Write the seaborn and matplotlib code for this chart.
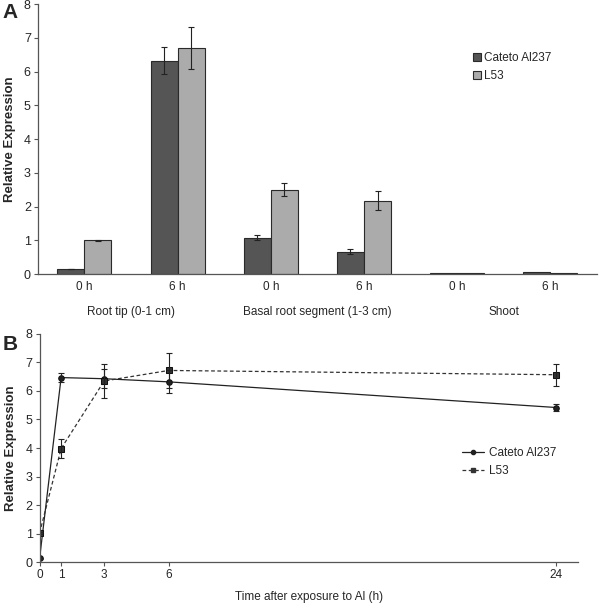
import numpy as np
import pandas as pd
import seaborn as sns
import matplotlib.pyplot as plt
from matplotlib.patches import Patch
from matplotlib.lines import Line2D

sns.set_style("white")
plt.rcParams['font.family'] = ['Liberation Sans', 'DejaVu Sans']

# ---- panel A data ----
tissues = ["Root tip (0-1 cm)", "Basal root segment (1-3 cm)", "Shoot"]
times_a = ["0 h", "6 h"]
cultivars = ["Cateto Al237", "L53"]
cateto_a = [0.15, 6.33, 1.08, 0.66, 0.02, 0.06]
cateto_a_err = [0.01, 0.40, 0.08, 0.07, 0.0, 0.0]
l53_a = [1.00, 6.70, 2.50, 2.18, 0.02, 0.02]
l53_a_err = [0.02, 0.62, 0.20, 0.27, 0.0, 0.0]

# ---- panel B data ----
hours = [0, 1, 3, 6, 24]
cateto_b = [0.13, 6.47, 6.43, 6.32, 5.42]
cateto_b_err = [0.02, 0.17, 0.33, 0.40, 0.12]
l53_b = [1.02, 3.98, 6.35, 6.72, 6.57]
l53_b_err = [0.03, 0.33, 0.60, 0.60, 0.38]

DARK = "#555555"
LIGHT = "#ababab"
EDGE = "#2a2a2a"

fig = plt.figure(figsize=(6, 6.05), dpi=100)
ax_a = fig.add_axes([0.063, 0.547, 0.932, 0.446])
ax_b = fig.add_axes([0.066, 0.071, 0.897, 0.377])

# ---------------- panel A ----------------
groups = [f"{t}|{h}" for t in tissues for h in times_a]
df_a = pd.DataFrame({
    "group": groups * 2,
    "cultivar": [cultivars[0]] * 6 + [cultivars[1]] * 6,
    "value": cateto_a + l53_a,
})
sns.barplot(data=df_a, x="group", y="value", hue="cultivar",
            palette=[DARK, LIGHT], width=0.58, errorbar=None,
            edgecolor=EDGE, linewidth=0.8, ax=ax_a, legend=False)

errs = [cateto_a_err, l53_a_err]
vals = [cateto_a, l53_a]
bar_conts = list(ax_a.containers)
for k, cont in enumerate(bar_conts):
    xs = [p.get_x() + p.get_width() / 2 for p in cont.patches]
    e = np.array(errs[k])
    mask = e > 0
    ax_a.errorbar(np.array(xs)[mask], np.array(vals[k])[mask], yerr=e[mask],
                  fmt="none", ecolor="#222222", elinewidth=0.8, capsize=2.5,
                  capthick=0.8)

ax_a.set_xlim(-0.5, 5.5)
ax_a.set_ylim(0, 8)
ax_a.set_yticks(range(0, 9))
ax_a.set_xticks(range(6))
ax_a.set_xticklabels(times_a * 3)
ax_a.set_xticks(np.arange(-0.5, 6, 1), minor=True)
ax_a.tick_params(axis="x", which="major", length=0, labelsize=8.5, pad=5)
ax_a.tick_params(axis="x", which="minor", length=4, width=0.8, color="#555555", direction="out")
ax_a.tick_params(axis="y", length=3, width=0.8, color="#555555", labelsize=9, pad=2, left=True)
ax_a.set_xlabel("")
ax_a.set_ylabel("Relative Expression", fontsize=9.5, fontweight="bold", labelpad=6)
for i, t in enumerate(tissues):
    ax_a.text(2 * i + 0.5, -0.95, t, ha="center", va="top", fontsize=8.5,
              transform=ax_a.transData)
sns.despine(ax=ax_a)
for s in ["left", "bottom"]:
    ax_a.spines[s].set_color("#555555")
    ax_a.spines[s].set_linewidth(0.9)

handles_a = [Patch(facecolor=DARK, edgecolor=EDGE, linewidth=0.8),
             Patch(facecolor=LIGHT, edgecolor=EDGE, linewidth=0.8)]
ax_a.legend(handles_a, cultivars, loc="upper left", bbox_to_anchor=(0.76, 0.862),
            frameon=False, fontsize=8.5, handlelength=0.6, handleheight=0.6,
            handletextpad=0.3, labelspacing=0.5)

# ---------------- panel B ----------------
df_b = pd.DataFrame({
    "hours": hours * 2,
    "value": cateto_b + l53_b,
    "cultivar": [cultivars[0]] * 5 + [cultivars[1]] * 5,
})
sns.lineplot(data=df_b, x="hours", y="value", hue="cultivar", style="cultivar",
             palette=["#222222", "#333333"], dashes=[(None, None), (3, 2)],
             markers=["o", "s"], markersize=4, linewidth=0.9,
             markeredgecolor="#111111", ax=ax_b, legend=False)
ax_b.errorbar(hours, cateto_b, yerr=cateto_b_err, fmt="none", ecolor="#222222",
              elinewidth=0.8, capsize=2.5, capthick=0.8)
ax_b.errorbar(hours, l53_b, yerr=l53_b_err, fmt="none", ecolor="#222222",
              elinewidth=0.8, capsize=2.5, capthick=0.8)

ax_b.set_xlim(0, 25)
ax_b.set_ylim(0, 8)
ax_b.set_xticks(hours)
ax_b.set_yticks(range(0, 9))
ax_b.tick_params(axis="x", length=3, width=0.8, color="#555555", labelsize=8.5, pad=2, bottom=True)
ax_b.tick_params(axis="y", length=3, width=0.8, color="#555555", labelsize=9, pad=2, left=True)
ax_b.set_xlabel("Time after exposure to Al (h)", fontsize=8.5, labelpad=7)
ax_b.set_ylabel("Relative Expression", fontsize=9.5, fontweight="bold", labelpad=6)
sns.despine(ax=ax_b)
for s in ["left", "bottom"]:
    ax_b.spines[s].set_color("#555555")
    ax_b.spines[s].set_linewidth(0.9)

handles_b = [Line2D([], [], color="#222222", linewidth=0.9, marker="o", markersize=3),
             Line2D([], [], color="#333333", linewidth=0.9, linestyle=(0, (3, 2)),
                    marker="s", markersize=3)]
ax_b.legend(handles_b, cultivars, loc="upper left", bbox_to_anchor=(0.765, 0.552),
            frameon=False, fontsize=8.5, handlelength=1.9, handletextpad=0.35,
            labelspacing=0.5)

fig.text(0.004, 0.995, "A", fontsize=15, fontweight="bold", va="top", ha="left")
fig.text(0.004, 0.447, "B", fontsize=15, fontweight="bold", va="top", ha="left")

fig.savefig("out.png", dpi=100)
